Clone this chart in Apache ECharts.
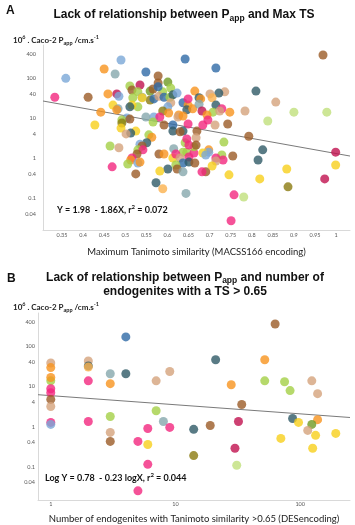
<!DOCTYPE html>
<html><head><meta charset="utf-8">
<script src="https://cdn.jsdelivr.net/npm/echarts@6/dist/echarts.min.js"></script>
<style>html,body{margin:0;padding:0;background:#fff}#c{width:355px;height:525px}</style>
</head><body><div id="c"></div>
<script>
// ---------- Panel A data: Max Tanimoto similarity vs Caco-2 Papp ----------
const xA = [0.333,0.412,0.359,0.45,0.476,0.49,0.549,0.642,0.715,0.969,0.578,0.459,0.48,0.485,0.511,0.535,0.516,0.53,0.518,0.54,
0.559,0.559,0.568,0.566,0.578,0.601,0.608,0.589,0.58,0.592,0.578,0.54,0.606,0.613,0.623,0.665,0.675,0.679,0.471,0.53,
0.516,0.511,0.483,0.48,0.442,0.608,0.601,0.637,0.649,0.649,0.646,0.66,0.568,0.549,0.589,0.582,0.603,0.627,0.625,0.637,
0.504,0.492,0.511,0.566,0.492,0.649,0.428,0.49,0.592,0.613,0.613,0.637,0.63,0.67,0.525,0.513,0.502,0.556,0.563,0.668,
0.736,0.722,0.701,0.706,0.675,0.715,0.81,0.857,0.9,0.978,0.838,0.784,0.748,0.743,0.682,0.708,0.729,0.724,0.694,0.696,
0.684,0.713,0.793,0.464,0.485,0.551,0.535,0.54,0.53,0.542,0.528,0.516,0.513,0.506,0.53,0.535,0.469,0.525,0.58,0.592,
0.615,0.637,0.646,0.613,0.62,0.63,0.663,0.651,0.663,0.642,0.646,0.651,0.668,0.637,0.651,0.62,0.623,0.601,0.582,0.637,
0.573,0.589,0.644,0.734,0.826,0.815,0.999,0.999,0.883,0.819,0.973,0.886,0.746,0.758,0.781,0.751,0.755,0.729,0.732,0.715,
0.715,0.706,0.691,0.682,0.698,0.698,0.684,0.691,0.665];
const yA = [33,33,98,168,126,282,141,299,178,376,112,40,40,35,63,67,50,45,32,33,
47,28,30,53,75,79,56,45,35,33,60,32,33,38,42,47,32,30,21,19,
21,19,17,16,14,24,19,24,21,30,16,17,10.6,10.6,15,10.6,13.3,11.9,10.6,11.2,
10,8.9,9.4,7.9,7.5,7.1,6.7,5.6,6.7,6.7,4.7,4.7,4.5,4.7,4.7,4.2,4.0,3.8,3.3,3.2,
45,42,40,32,22,21,47,25,14,14,8.4,15,14,7.1,15,14,17,15,11.9,8.9,
6.7,6.7,3.5,2.0,1.8,2.4,2.2,2.0,1.6,1.6,1.26,1.0,0.89,0.71,0.75,0.79,0.6,0.4,1.26,1.26,
1.7,1.4,1.4,1.0,1.26,1.0,1.33,1.06,1.9,2.4,3.0,2.1,2.1,0.75,0.79,0.67,0.53,0.53,0.47,0.45,
0.24,0.17,0.13,2.5,1.6,0.89,1.4,0.67,0.53,0.3,0.3,0.19,0.38,0.12,0.106,0.027,1.12,1.19,0.89,1.0,
0.84,0.63,0.45,0.45,1.6,1.4,1.33,1.19,0.75];
const gA = ['K','R','L','O','G','L','B','B','B','R','R','O','C','L','E','C','R','E','E','G',
'D','V','B','R','R','D','E','E','N','B','B','Y','E','T','L','O','T','O','Y','E',
'Y','T','G','O','O','N','L','B','O','K','T','O','L','G','V','K','O','O','N','O',
'L','E','R','E','V','K','Y','Y','R','B','T','T','R','R','Y','T','N','E','O','N',
'N','T','N','A','G','T','T','N','F','F','F','N','O','R','C','E','K','N','O','K',
'K','N','R','E','N','T','L','R','E','K','R','K','O','E','L','O','K','R','R','O',
'G','E','E','Y','K','N','K','K','E','E','K','K','R','B','T','E','R','T','Y','G',
'T','A','G','E','T','T','C','Y','Y','Y','C','V','Y','K','F','K','R','E','K','K',
'N','Y','R','K','O','L','Y','L','R'];
const ticksXA = [0.35,0.4,0.45,0.5,0.55,0.6,0.65,0.7,0.75,0.8,0.85,0.9,0.95,1];
const fitA = [[0.305,26.6],[1.033,1.12]];

// ---------- Panel B data: number of endogenites with TS > 0.65 vs Papp ----------
const xB = [63,4,1,1,1,1,1,1,1,1,2,2,2,2,3,4,3,7,9,21,
52,52,75,83,124,138,28,34,7,3,1,1,2,8,32,87,138,97,124,3,
6,9,14,19,115,133,193,70,3,5,6,30,126,14,6,31,5];
const yB = [367,175,39,30,14,17,8.9,7.1,4.8,3.2,44,33,31,14,21,21,11.9,14,24,47,
47,14,13.3,8.0,14,6.7,11.2,3.6,2.5,1.8,1.28,1.14,1.35,1.35,1.35,1.6,1.5,1.28,1.14,0.72,
0.9,0.96,0.86,1.07,0.81,0.61,0.68,0.51,0.43,0.43,0.36,0.29,0.29,0.19,0.115,0.109,0.025];
const gB = ['R','B','N','O','E','O','K','K','R','N','N','T','A','K','G','T','O','N','N','T',
'O','E','E','E','N','N','O','R','E','E','K','L','K','G','C','T','O','Y','D','N',
'K','K','T','R','N','Y','Y','Y','R','K','Y','C','Y','V','K','F','K'];
const ticksXB = [1,10,100];
const fitB = [[0.79,6.3],[251,1.7]];

// shared y tick labels (log scale)
const ticksY = [400,100,40,10,4,1,0.4,0.1,0.04];

const palette = {B:'#2f6aa6',L:'#7aa7d7',G:'#86a8ac',T:'#2f5a67',O:'#f7931e',A:'#fbb24d',N:'#d4a27c',
  R:'#9b5b27',V:'#8b7b10',Y:'#f8cf1c',E:'#a4cf46',F:'#c0e07c',K:'#f2277e',C:'#c1124f',D:'#6f9a23'};

const lg = Math.log10;
const fmtPow = v => String(Number(Math.pow(10, v).toPrecision(2)));
const lab = {fontSize:5.5, color:'#595959', fontFamily:'Lato'};
const axLine = {show:true, onZero:false, lineStyle:{color:'#d9d9d9', width:1}};

const chart = echarts.init(document.getElementById('c'), null, {renderer:'canvas'});
chart.setOption({
  animation:false,
  backgroundColor:'#fff',
  title:[
    {text:'A', left:6, top:5, padding:0, textStyle:{fontSize:12, fontWeight:'bold', color:'#111', fontFamily:'Liberation Sans'}},
    {text:'{t|Lack of relationship between P}{s|app}{t| and Max TS}', left:184, top:6, padding:0, textAlign:'center',
      textStyle:{rich:{t:{fontSize:12,lineHeight:17,fontWeight:'bold',color:'#111',fontFamily:'Liberation Sans'},
                       s:{fontSize:8.5,lineHeight:10,fontWeight:'bold',color:'#111',verticalAlign:'bottom',fontFamily:'Liberation Sans'}}}},
    {text:'{t|10}{p|6}{t| . Caco-2 P}{s|app}{t| /cm.s}{p|-1}', left:13, top:34, padding:0,
      textStyle:{rich:{t:{fontSize:8,lineHeight:12,color:'#222',fontFamily:'Lato'},
                       p:{fontSize:5.5,lineHeight:7,color:'#222',verticalAlign:'top',fontFamily:'Lato'},
                       s:{fontSize:5.5,lineHeight:7,color:'#222',verticalAlign:'bottom',fontFamily:'Lato'}}}},
    {text:'{t|Y = 1.98  - 1.86X, r}{p|2}{t| = 0.072}', left:57, top:204, padding:0,
      textStyle:{rich:{t:{fontSize:9,lineHeight:12,fontWeight:'bold',color:'#111',fontFamily:'Lato'},
                       p:{fontSize:6,lineHeight:7,fontWeight:'bold',color:'#111',verticalAlign:'top',fontFamily:'Lato'}}}},
    {text:'B', left:7, top:273, padding:0, textStyle:{fontSize:12, fontWeight:'bold', color:'#111', fontFamily:'Liberation Sans'}},
    {text:'{t|Lack of relationship between P}{s|app}{t| and number of}\n{t|endogenites with a TS > 0.65}', left:185, top:271, padding:0, textAlign:'center',
      textStyle:{rich:{t:{fontSize:12,lineHeight:14,fontWeight:'bold',color:'#111',fontFamily:'Liberation Sans',align:'center'},
                       s:{fontSize:8.5,lineHeight:9,fontWeight:'bold',color:'#111',verticalAlign:'bottom',fontFamily:'Liberation Sans'}}}},
    {text:'{t|10}{p|6}{t| . Caco-2 P}{s|app}{t| /cm.s}{p|-1}', left:13, top:301, padding:0,
      textStyle:{rich:{t:{fontSize:8,lineHeight:12,color:'#222',fontFamily:'Lato'},
                       p:{fontSize:5.5,lineHeight:7,color:'#222',verticalAlign:'top',fontFamily:'Lato'},
                       s:{fontSize:5.5,lineHeight:7,color:'#222',verticalAlign:'bottom',fontFamily:'Lato'}}}},
    {text:'{t|Log Y = 0.78  - 0.23 logX, r}{p|2}{t| = 0.044}', left:45, top:472, padding:0,
      textStyle:{rich:{t:{fontSize:9,lineHeight:12,fontWeight:'bold',color:'#111',fontFamily:'Lato'},
                       p:{fontSize:6,lineHeight:7,fontWeight:'bold',color:'#111',verticalAlign:'top',fontFamily:'Lato'}}}}
  ],
  grid:[
    {left:43, top:45, width:307, height:185},
    {left:38, top:313, width:312, height:188}
  ],
  xAxis:[
    {gridIndex:0, type:'value', min:0.305, max:1.033,
     name:'Maximum Tanimoto similarity (MACSS166 encoding)', nameLocation:'middle', nameGap:17,
     nameTextStyle:{fontSize:9.5, color:'#222', fontFamily:'Lato'},
     axisLine:axLine, axisTick:{show:false}, splitLine:{show:false},
     axisLabel:Object.assign({margin:2, customValues:ticksXA}, lab)},
    {gridIndex:1, type:'value', min:lg(0.79), max:lg(251),
     name:'Number of endogenites with Tanimoto similarity >0.65 (DESencoding)', nameLocation:'middle', nameGap:14,
     nameTextStyle:{fontSize:9.5, color:'#222', fontFamily:'Lato'},
     axisLine:axLine, axisTick:{show:false}, splitLine:{show:false},
     axisLabel:Object.assign({margin:1, customValues:ticksXB.map(lg), formatter:fmtPow}, lab)}
  ],
  yAxis:[
    {gridIndex:0, type:'value', min:-1.8, max:2.825,
     axisLine:axLine, axisTick:{show:false}, splitLine:{show:false},
     axisLabel:Object.assign({margin:7, customValues:ticksY.map(lg), formatter:fmtPow}, lab)},
    {gridIndex:1, type:'value', min:-1.83, max:2.84,
     axisLine:axLine, axisTick:{show:false}, splitLine:{show:false},
     axisLabel:Object.assign({margin:3, customValues:ticksY.map(lg), formatter:fmtPow}, lab)}
  ],
  series:[
    {type:'line', xAxisIndex:0, yAxisIndex:0, data:fitA.map(p=>[p[0], lg(p[1])]), symbol:'none',
     lineStyle:{color:'#7a7a7a', width:1}, silent:true, z:1},
    {type:'scatter', xAxisIndex:0, yAxisIndex:0, symbolSize:9, z:2,
     data:xA.map((x,i)=>({value:[x, lg(yA[i])], itemStyle:{color:palette[gA[i]]}}))},
    {type:'line', xAxisIndex:1, yAxisIndex:1, data:fitB.map(p=>[lg(p[0]), lg(p[1])]), symbol:'none',
     lineStyle:{color:'#7a7a7a', width:1}, silent:true, z:1},
    {type:'scatter', xAxisIndex:1, yAxisIndex:1, symbolSize:9, z:2,
     data:xB.map((x,i)=>({value:[lg(x), lg(yB[i])], itemStyle:{color:palette[gB[i]]}}))}
  ]
});
</script></body></html>
